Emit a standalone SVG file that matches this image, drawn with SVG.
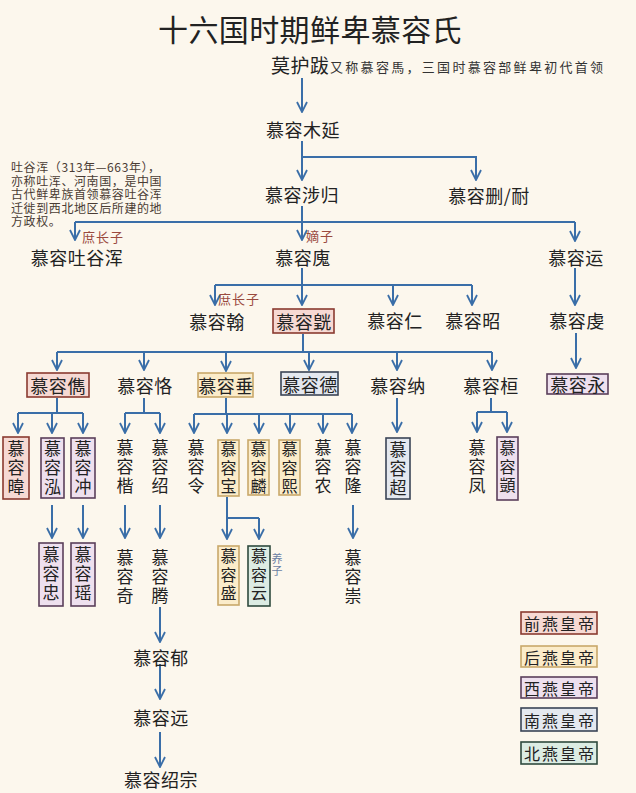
<svg xmlns="http://www.w3.org/2000/svg" width="636" height="793" viewBox="0 0 636 793">
<style>
text{font-family:"Noto Sans CJK SC","Noto Sans CJK TC",sans-serif;fill:#222;}
.t{font-size:18px;letter-spacing:0.5px;text-anchor:middle;dominant-baseline:central;}
.vt{font-size:17px;writing-mode:vertical-rl;letter-spacing:2px;}
.vb{font-size:16px;writing-mode:vertical-rl;letter-spacing:2.5px;}
.note{font-size:12px;fill:#4a3c34;letter-spacing:0.6px;}
.red{font-size:13px;fill:#9a4a3e;dominant-baseline:central;letter-spacing:1px;}
.lg{font-size:16px;letter-spacing:2px;text-anchor:middle;dominant-baseline:central;}
.c path{fill:none;stroke:#3a6ea8;stroke-width:2;}
.a{marker-end:url(#ah);}
.pink{fill:#f6d9d3;stroke:#8a3a30;stroke-width:1.6;}
.yel{fill:#fbecca;stroke:#c9a86a;stroke-width:1.6;}
.pur{fill:#eee0ee;stroke:#5a3f5a;stroke-width:1.6;}
.blu{fill:#e4e8ef;stroke:#3a4456;stroke-width:1.6;}
.grn{fill:#dcece3;stroke:#2f4a3e;stroke-width:1.6;}
</style>
<defs>
<marker id="ah" markerUnits="userSpaceOnUse" markerWidth="12" markerHeight="12" viewBox="0 0 12 12" refX="11" refY="6" orient="auto">
<path d="M1,1 L11,6 L1,11" fill="none" stroke="#3a6ea8" stroke-width="1.8"/>
</marker>
</defs>
<rect width="636" height="793" fill="#fcf7ed"/>
<text x="310" y="28" style="font-size:30px;text-anchor:middle;dominant-baseline:central;letter-spacing:0.4px;">十六国时期鲜卑慕容氏</text>

<g class="c" id="connectors">
<path class="a" d="M302,78 V112"/>
<path class="a" d="M302,141 V180"/>
<path class="a" d="M302,157 H476 V180"/>
<path class="a" d="M302,206 V240"/>
<path d="M75,222 H575"/>
<path class="a" d="M75,222 V240"/>
<path class="a" d="M575,222 V241"/>
<path class="a" d="M302,268 V305"/>
<path d="M215,285 H472"/>
<path class="a" d="M215,285 V305"/>
<path class="a" d="M393,285 V305"/>
<path class="a" d="M472,285 V305"/>
<path class="a" d="M575,268 V305"/>
<path class="a" d="M576,333 V368"/>
<path d="M303,334 V352"/>
<path d="M57,352 H492"/>
<path class="a" d="M57,352 V370"/>
<path class="a" d="M144,352 V370"/>
<path class="a" d="M226,352 V371"/>
<path class="a" d="M309,352 V370"/>
<path class="a" d="M397,352 V370"/>
<path class="a" d="M492,352 V370"/>
<path d="M57,398 V413 M18,413 H83"/>
<path class="a" d="M18,413 V433"/>
<path class="a" d="M52,413 V433"/>
<path class="a" d="M83,413 V433"/>
<path d="M144,398 V413 M125,413 H160"/>
<path class="a" d="M125,413 V433"/>
<path class="a" d="M160,413 V433"/>
<path d="M226,398 V414 M194,414 H352"/>
<path class="a" d="M194,414 V433"/>
<path class="a" d="M227,414 V433"/>
<path class="a" d="M259,414 V433"/>
<path class="a" d="M290,414 V433"/>
<path class="a" d="M323,414 V433"/>
<path class="a" d="M352,414 V433"/>
<path class="a" d="M397,398 V432"/>
<path d="M491,398 V412 M477,412 H507"/>
<path class="a" d="M477,412 V432"/>
<path class="a" d="M507,412 V432"/>
<path class="a" d="M52,505 V538"/>
<path class="a" d="M83,505 V538"/>
<path class="a" d="M125,505 V538"/>
<path class="a" d="M160,505 V538"/>
<path class="a" d="M353,505 V538"/>
<path d="M227,497 V518 H259"/>
<path class="a" d="M227,518 V539"/>
<path class="a" d="M259,518 V539"/>
<path class="a" d="M160,607 V642"/>
<path class="a" d="M160,664 V699"/>
<path class="a" d="M160,732 V767"/>
</g>

<g id="mohuba">
<text x="271" y="64" style="font-size:19px;dominant-baseline:central;letter-spacing:0.5px;">莫护跋</text>
<text x="330" y="66" style="font-size:13px;dominant-baseline:central;letter-spacing:2.3px;fill:#333;">又称慕容馬，三国时慕容部鲜卑初代首领</text>
</g>
<g id="muyan"><text class="t" x="303" y="129">慕容木延</text></g>
<g id="sheggui"><text class="t" x="302" y="194">慕容涉归</text></g>
<g id="shan"><text class="t" x="489" y="195">慕容删/耐</text></g>
<g id="tuyuhun-note">
<text class="note" x="11" y="172"><tspan x="11">吐谷浑（313年—663年），</tspan><tspan x="11" dy="13.5">亦称吐浑、河南国，是中国</tspan><tspan x="11" dy="13.5">古代鲜卑族首领慕容吐谷浑</tspan><tspan x="11" dy="13.5">迁徙到西北地区后所建的地</tspan><tspan x="11" dy="13.5">方政权。</tspan></text>
</g>
<g id="tuyuhun">
<text class="red" x="82" y="236">庶长子</text>
<text class="t" x="77" y="257">慕容吐谷浑</text>
</g>
<g id="hui">
<text class="red" x="306" y="235">嫡子</text>
<text class="t" x="303" y="257">慕容廆</text>
</g>
<g id="yun"><text class="t" x="576" y="257">慕容运</text></g>
<g id="han">
<text class="red" x="218" y="298">庶长子</text>
<text class="t" x="217" y="321">慕容翰</text>
</g>
<g id="huang">
<rect class="pink" x="273" y="309" width="61" height="24"/>
<text class="t" x="304" y="321">慕容皝</text>
</g>
<g id="ren"><text class="t" x="395" y="320">慕容仁</text></g>
<g id="zhao"><text class="t" x="473" y="320">慕容昭</text></g>
<g id="qian"><text class="t" x="577" y="320">慕容虔</text></g>
<g id="yong">
<rect class="pur" x="547" y="374" width="61" height="20"/>
<text class="t" x="578" y="384">慕容永</text>
</g>
<g id="jun">
<rect class="pink" x="27" y="373" width="62" height="24"/>
<text class="t" x="58" y="385">慕容儁</text>
</g>
<g id="ke"><text class="t" x="145" y="385">慕容恪</text></g>
<g id="chui">
<rect class="yel" x="198" y="373" width="55" height="24"/>
<text class="t" x="226" y="385">慕容垂</text>
</g>
<g id="de">
<rect class="blu" x="281" y="372" width="57" height="23"/>
<text class="t" x="310" y="384">慕容德</text>
</g>
<g id="na"><text class="t" x="398" y="385">慕容纳</text></g>
<g id="huan"><text class="t" x="491" y="385">慕容桓</text></g>

<g id="wei">
<rect class="pink" x="3" y="437" width="26" height="62"/>
<text class="vt" x="16" y="440">慕容暐</text>
</g>
<g id="hong">
<rect class="pur" x="41" y="438" width="23" height="60"/>
<text class="vt" x="52.5" y="440">慕容泓</text>
</g>
<g id="chong">
<rect class="pur" x="71" y="438" width="24" height="60"/>
<text class="vt" x="83" y="440">慕容冲</text>
</g>
<g id="kai"><text class="vt" x="125" y="439">慕容楷</text></g>
<g id="shao"><text class="vt" x="160" y="439">慕容绍</text></g>
<g id="ling"><text class="vt" x="196" y="439">慕容令</text></g>
<g id="bao">
<rect class="yel" x="218" y="440" width="21" height="56"/>
<text class="vb" x="228.5" y="441">慕容宝</text>
</g>
<g id="lin">
<rect class="yel" x="248" y="440" width="21" height="55"/>
<text class="vb" x="258.5" y="441">慕容麟</text>
</g>
<g id="xi">
<rect class="yel" x="279" y="440" width="21" height="55"/>
<text class="vb" x="289.5" y="441">慕容熙</text>
</g>
<g id="nong"><text class="vt" x="323" y="439">慕容农</text></g>
<g id="long"><text class="vt" x="353" y="439">慕容隆</text></g>
<g id="chao">
<rect class="blu" x="386" y="438" width="24" height="61"/>
<text class="vt" x="398" y="441">慕容超</text>
</g>
<g id="feng"><text class="vt" x="477" y="439">慕容凤</text></g>
<g id="yi">
<rect class="pur" x="497" y="437" width="21" height="63"/>
<text class="vb" x="507.5" y="440">慕容顗</text>
</g>

<g id="zhong">
<rect class="pur" x="39" y="543" width="24" height="63"/>
<text class="vt" x="51" y="546">慕容忠</text>
</g>
<g id="yao">
<rect class="pur" x="71" y="543" width="24" height="63"/>
<text class="vt" x="83" y="546">慕容瑶</text>
</g>
<g id="qi"><text class="vt" x="125" y="549">慕容奇</text></g>
<g id="teng"><text class="vt" x="160" y="549">慕容腾</text></g>
<g id="sheng">
<rect class="yel" x="218" y="546" width="21" height="59"/>
<text class="vb" x="228.5" y="548">慕容盛</text>
</g>
<g id="yun2">
<rect class="grn" x="248" y="546" width="22" height="60"/>
<text class="vb" x="259" y="548">慕容云</text>
<text x="277" y="553" style="font-size:11px;fill:#6b7fa3;writing-mode:vertical-rl;letter-spacing:1px;">养子</text>
</g>
<g id="chong2"><text class="vt" x="353" y="549">慕容崇</text></g>

<g id="yu"><text class="t" x="161" y="657">慕容郁</text></g>
<g id="yuan"><text class="t" x="161" y="717">慕容远</text></g>
<g id="shaozong"><text class="t" x="161" y="779">慕容绍宗</text></g>

<g id="legend">
<rect class="pink" x="521" y="612" width="76" height="22"/>
<text class="lg" x="560" y="623">前燕皇帝</text>
<rect class="yel" x="521" y="646" width="76" height="21"/>
<text class="lg" x="560" y="656.5">后燕皇帝</text>
<rect class="pur" x="521" y="677" width="76" height="21"/>
<text class="lg" x="560" y="687.5">西燕皇帝</text>
<rect class="blu" x="521" y="708" width="76" height="23"/>
<text class="lg" x="560" y="719.5">南燕皇帝</text>
<rect class="grn" x="521" y="742" width="76" height="22"/>
<text class="lg" x="560" y="753">北燕皇帝</text>
</g>
</svg>
